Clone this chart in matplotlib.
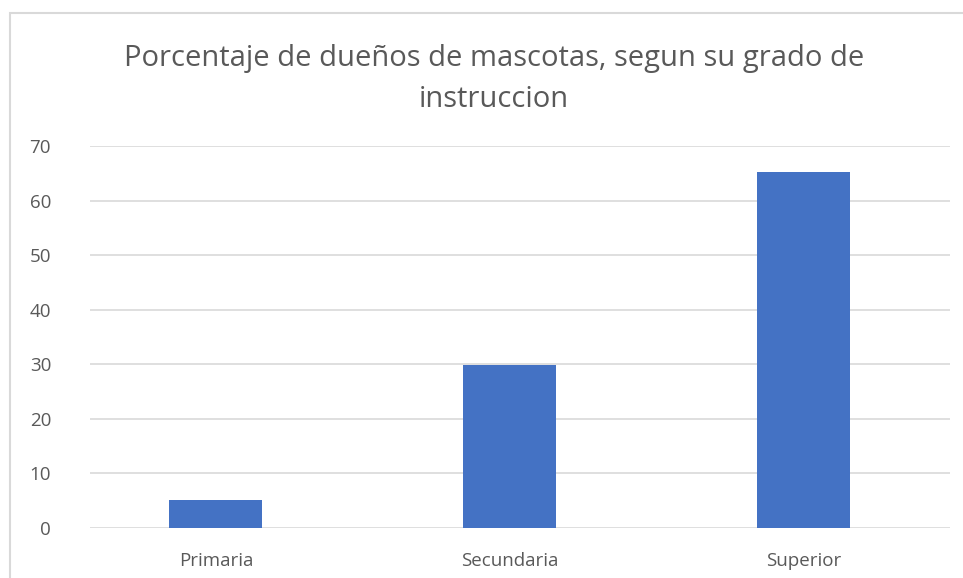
import matplotlib
matplotlib.use("Agg")
import matplotlib.pyplot as plt
from matplotlib.patches import Rectangle
import numpy as np

categories = ["Primaria", "Secundaria", "Superior"]
values = [5.2, 29.8, 65.2]
yticks = [0, 10, 20, 30, 40, 50, 60, 70]
title = "Porcentaje de dueños de mascotas, segun su grado de\ninstruccion"

plt.rcParams['font.family'] = ['Open Sans', 'DejaVu Sans']

fig = plt.figure(figsize=(9.63, 5.78), dpi=100)
ax = fig.add_axes([90/963, 1-528/578, (950-90)/963, (528-146)/578])

x = np.arange(len(categories))
ax.bar(x, values, width=0.317, color="#4472C4", zorder=3)
ax.set_xlim(-0.429, 2.50)
ax.set_ylim(0, 70)
ax.set_yticks(yticks)
ax.set_xticks(x)
ax.set_xticklabels(categories)
ax.grid(axis="y", color="#d9d9d9", linewidth=1.2, zorder=0)
for s in ax.spines.values():
    s.set_visible(False)
ax.tick_params(axis="both", length=0, labelsize=13.5, colors="#595959")
ax.tick_params(axis="y", pad=28)
ax.tick_params(axis="x", pad=17)

fig.text(494/963, 1-79/578, title, ha="center", va="center", fontsize=21,
         color="#595959", linespacing=1.55, multialignment="center")

fig.patches.append(Rectangle((10/963, -0.1), 1.2, 1.1 - 13/578,
                             transform=fig.transFigure, fill=False,
                             edgecolor="#d9d9d9", linewidth=1.5))

fig.savefig("out.png", dpi=100)
